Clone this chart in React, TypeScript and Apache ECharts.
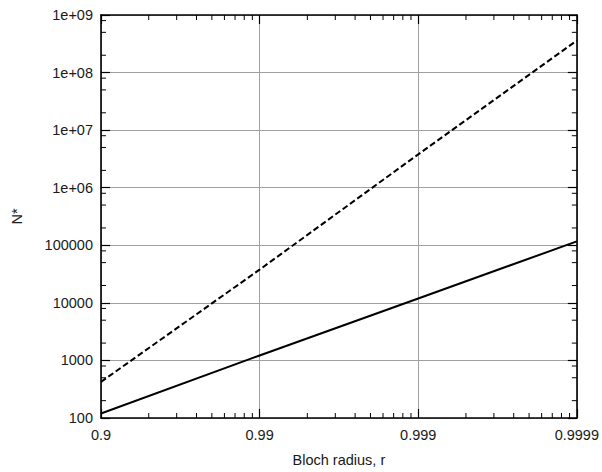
import React, { useEffect, useRef } from "react";
import * as echarts from "echarts";

// Bloch radius values (x) and N* values
const solidR = [0.9, 0.99, 0.999, 0.9999];
const solidN = [120, 1220, 11900, 117000];
const dashedR = [0.9, 0.99, 0.999, 0.9999];
const dashedN = [424, 37800, 3800000, 360000000];

const xTickLabels = ["0.9", "0.99", "0.999", "0.9999"];
const yTickLabels = ["100", "1000", "10000", "100000", "1e+06", "1e+07", "1e+08", "1e+09"];

const X_MIN = 10;
const X_MAX = 10000;
const Y_MIN = 100;
const Y_MAX = 1e9;
const xMinorMultipliers = [2, 3, 4, 5, 6, 7, 8, 9];
const yMinorMultipliers = [2, 5, 8];

const toX = (r: number) => Number((1 / (1 - r)).toPrecision(6));

const FONT = "Liberation Sans, Arial, sans-serif";

export default function App() {
  const ref = useRef<HTMLDivElement>(null);
  useEffect(() => {
    if (!ref.current) return;
    const chart = echarts.init(ref.current, undefined, { renderer: "svg" });

    const xMinor: number[][] = [];
    for (let d = X_MIN; d < X_MAX; d *= 10) {
      xMinorMultipliers.forEach((n) => xMinor.push([n * d, Y_MIN]));
    }
    const yMinor: number[][] = [];
    for (let d = Y_MIN; d < Y_MAX; d *= 10) {
      yMinorMultipliers.forEach((n) => yMinor.push([X_MIN, n * d]));
    }

    const axisLine = { show: true, lineStyle: { color: "#000", width: 1.6 } };
    const majorTick = { show: true, inside: true, length: 9, lineStyle: { color: "#000", width: 1.2 } };
    const labelStyle = { color: "#1a1a1a", fontSize: 14.5, fontFamily: FONT };

    const tickLen = 5;

    chart.setOption({
      animation: false,
      backgroundColor: "#fff",
      grid: { left: 101, right: 25, top: 15, bottom: 53, containLabel: false },
      xAxis: [
        {
          type: "log",
          logBase: 10,
          min: X_MIN,
          max: X_MAX,
          interval: 1,
          position: "bottom",
          name: "Bloch radius, r",
          nameLocation: "middle",
          nameGap: 34,
          nameTextStyle: { ...labelStyle },
          axisLine,
          axisTick: majorTick,
          axisLabel: {
            ...labelStyle,
            margin: 9,
            formatter: (v: number) => xTickLabels[Math.round(Math.log10(v)) - 1] ?? "",
          },
          splitLine: { show: true, lineStyle: { color: "#a0a0a0", width: 1 } },
        },
        {
          type: "log",
          logBase: 10,
          min: X_MIN,
          max: X_MAX,
          interval: 1,
          position: "top",
          axisLine,
          axisTick: majorTick,
          axisLabel: { show: false },
          splitLine: { show: false },
        },
      ],
      yAxis: [
        {
          type: "log",
          logBase: 10,
          min: Y_MIN,
          max: Y_MAX,
          interval: 1,
          position: "left",
          name: "N*",
          nameLocation: "middle",
          nameGap: 77,
          nameRotate: 90,
          nameTextStyle: { ...labelStyle },
          axisLine,
          axisTick: majorTick,
          axisLabel: {
            ...labelStyle,
            margin: 8,
            formatter: (v: number) => yTickLabels[Math.round(Math.log10(v)) - 2] ?? "",
          },
          splitLine: { show: true, lineStyle: { color: "#a0a0a0", width: 1 } },
        },
        {
          type: "log",
          logBase: 10,
          min: Y_MIN,
          max: Y_MAX,
          interval: 1,
          position: "right",
          axisLine,
          axisTick: majorTick,
          axisLabel: { show: false },
          splitLine: { show: false },
        },
      ],
      series: [
        {
          type: "custom",
          xAxisIndex: 0,
          yAxisIndex: 0,
          silent: true,
          z: 5,
          data: xMinor,
          renderItem: (_p: any, api: any) => {
            const xv = api.value(0);
            const b = api.coord([xv, Y_MIN]);
            const t = api.coord([xv, Y_MAX]);
            return {
              type: "group",
              children: [
                { type: "line", shape: { x1: b[0], y1: b[1], x2: b[0], y2: b[1] - tickLen }, style: { stroke: "#000", lineWidth: 1 } },
                { type: "line", shape: { x1: t[0], y1: t[1], x2: t[0], y2: t[1] + tickLen }, style: { stroke: "#000", lineWidth: 1 } },
              ],
            };
          },
        },
        {
          type: "custom",
          xAxisIndex: 0,
          yAxisIndex: 0,
          silent: true,
          z: 5,
          data: yMinor,
          renderItem: (_p: any, api: any) => {
            const yv = api.value(1);
            const l = api.coord([X_MIN, yv]);
            const r = api.coord([X_MAX, yv]);
            return {
              type: "group",
              children: [
                { type: "line", shape: { x1: l[0], y1: l[1], x2: l[0] + tickLen, y2: l[1] }, style: { stroke: "#000", lineWidth: 1 } },
                { type: "line", shape: { x1: r[0], y1: r[1], x2: r[0] - tickLen, y2: r[1] }, style: { stroke: "#000", lineWidth: 1 } },
              ],
            };
          },
        },
        {
          type: "line",
          name: "solid",
          xAxisIndex: 0,
          yAxisIndex: 0,
          showSymbol: false,
          symbol: "none",
          z: 10,
          lineStyle: { color: "#000", width: 2, type: "solid" },
          data: solidR.map((r, i) => [toX(r), solidN[i]]),
        },
        {
          type: "line",
          name: "dashed",
          xAxisIndex: 0,
          yAxisIndex: 0,
          showSymbol: false,
          symbol: "none",
          z: 10,
          lineStyle: { color: "#000", width: 2, type: [6, 3] },
          data: dashedR.map((r, i) => [toX(r), dashedN[i]]),
        },
      ],
    });
    return () => chart.dispose();
  }, []);
  return <div ref={ref} style={{ width: 602, height: 472, position: "absolute", left: 0, top: 0 }} />;
}
